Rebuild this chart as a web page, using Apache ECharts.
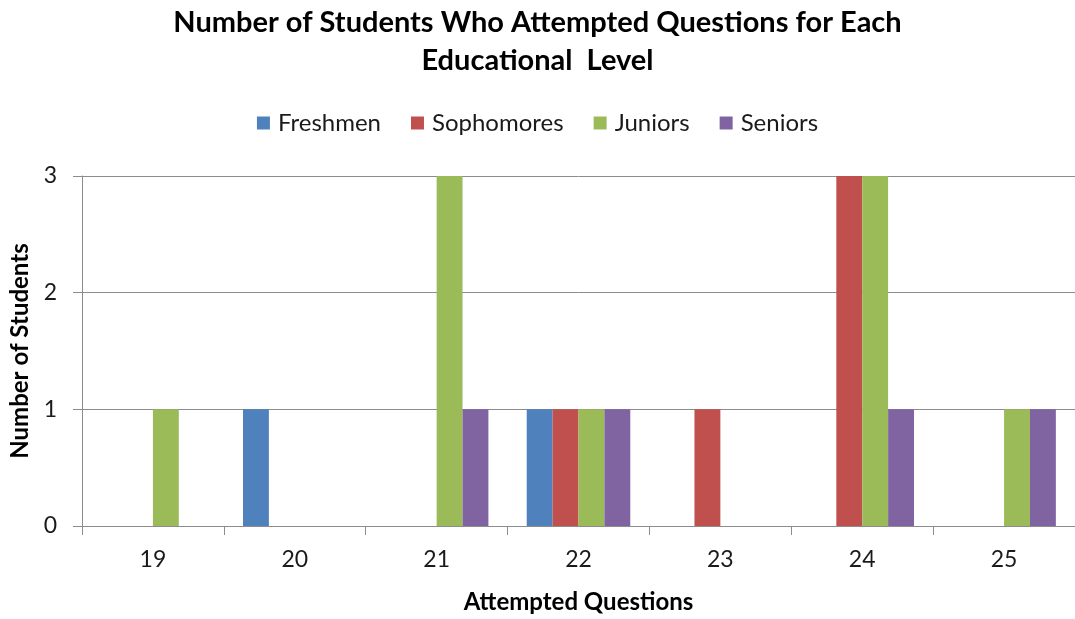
<!DOCTYPE html>
<html>
<head>
<meta charset="utf-8">
<title>Number of Students Who Attempted Questions</title>
<script src="https://cdn.jsdelivr.net/npm/echarts@6/dist/echarts.min.js"></script>
<style>
  html, body { margin: 0; padding: 0; background: #ffffff; }
  #chart { width: 1075px; height: 619px; }
</style>
</head>
<body>
<div id="chart"></div>
<script>
// Attempted question counts (categories) and students per level
const attempted = ['19', '20', '21', '22', '23', '24', '25'];
const freshmen   = [0, 1, 0, 1, 0, 0, 0];
const sophomores = [0, 0, 0, 1, 1, 3, 0];
const juniors    = [1, 0, 3, 1, 0, 3, 1];
const seniors    = [0, 0, 1, 1, 0, 1, 1];
const yTicks = [0, 1, 2, 3];

const FONT = 'Lato, "Open Sans", sans-serif';
const AXIS_GRAY = '#8c8c8c';
const TEXT = '#1a1a1a';

function barSeries(name, data, color) {
  return {
    name: name,
    type: 'bar',
    data: data,
    barGap: '0%',
    barCategoryGap: '27%',
    itemStyle: { color: color },
    emphasis: { disabled: true }
  };
}

const chart = echarts.init(document.getElementById('chart'), null, { renderer: 'canvas' });
chart.setOption({
  animation: false,
  backgroundColor: '#ffffff',
  title: {
    text: 'Number of Students Who Attempted Questions for Each\nEducational  Level',
    left: 'center',
    top: -1,
    textStyle: {
      fontFamily: FONT,
      fontSize: 29,
      fontWeight: 'bold',
      color: '#000000',
      lineHeight: 38
    }
  },
  legend: {
    top: 106,
    left: 'center',
    itemWidth: 13,
    itemHeight: 13,
    itemGap: 30,
    icon: 'rect',
    textStyle: { fontFamily: FONT, fontSize: 24, color: TEXT, padding: [0, 0, 0, 3] },
    data: ['Freshmen', 'Sophomores', 'Juniors', 'Seniors']
  },
  grid: {
    left: 82,
    top: 176,
    width: 1000,
    height: 353,
    containLabel: false
  },
  xAxis: {
    type: 'category',
    data: attempted,
    name: 'Attempted Questions',
    nameLocation: 'middle',
    nameGap: 64,
    nameTextStyle: { fontFamily: FONT, fontSize: 24, fontWeight: 'bold', color: '#000000' },
    axisLine: { lineStyle: { color: AXIS_GRAY, width: 1 } },
    axisTick: { show: true, length: 9, alignWithLabel: false, lineStyle: { color: AXIS_GRAY } },
    axisLabel: { fontFamily: FONT, fontSize: 23, color: TEXT, margin: 22 },
    splitLine: { show: false }
  },
  yAxis: {
    type: 'value',
    min: yTicks[0],
    max: yTicks[yTicks.length - 1],
    interval: 1,
    name: 'Number of Students',
    nameLocation: 'middle',
    nameGap: 47,
    nameRotate: 90,
    nameTextStyle: { fontFamily: FONT, fontSize: 24, fontWeight: 'bold', color: '#000000' },
    axisLine: { show: true, lineStyle: { color: AXIS_GRAY, width: 1 } },
    axisTick: { show: true, length: 9, lineStyle: { color: AXIS_GRAY } },
    axisLabel: { fontFamily: FONT, fontSize: 23, color: TEXT, margin: 25 },
    splitLine: { show: true, lineStyle: { color: AXIS_GRAY, width: 1 } }
  },
  series: [
    barSeries('Freshmen', freshmen, '#4f81bd'),
    barSeries('Sophomores', sophomores, '#c0504d'),
    barSeries('Juniors', juniors, '#9bbb59'),
    barSeries('Seniors', seniors, '#8064a2')
  ]
});
</script>
</body>
</html>
